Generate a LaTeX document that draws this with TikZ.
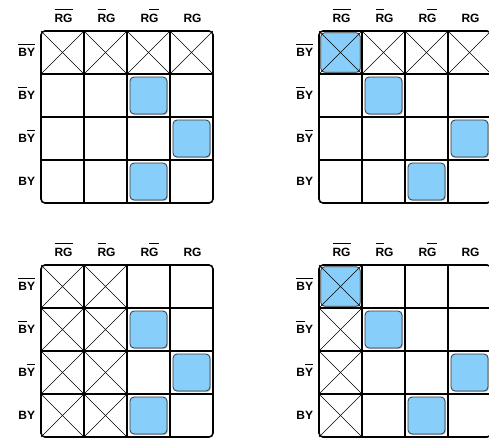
\documentclass[tikz,border=0pt]{standalone}
\usepackage{fontspec}
\setmainfont{Liberation Sans}
\usetikzlibrary{shadows}
\definecolor{cellblue}{RGB}{135,206,250}
\definecolor{edgegray}{RGB}{55,55,55}
\newcommand{\ovl}[1]{\begingroup\setbox0\hbox{#1}\rlap{\raisebox{\dimexpr\ht0+4pt\relax}{\rule{\wd0}{1pt}}}\box0\endgroup}
\tikzset{
  lbl/.style={font=\bfseries\fontsize{12}{14}\selectfont, inner sep=0pt, anchor=base},
  onecell/.style={minimum size=43pt, inner sep=0pt, outer sep=0pt},
  bluebox/.style={rounded corners=4pt, fill=cellblue, draw=edgegray, line width=0.8pt,
    minimum size=37pt, inner sep=0pt,
    drop shadow={shadow xshift=1pt, shadow yshift=-1pt, opacity=0.45, fill=gray}},
  bigblue/.style={bluebox, minimum size=39.5pt},
  gridline/.style={line width=1.3pt},
  outerline/.style={line width=1.6pt, rounded corners=4pt},
  crossline/.style={line width=0.6pt}
}
\newcommand{\kmapgrid}[3]{%
  \foreach \c in {0,...,3}{
    \foreach \r in {0,...,3}{
      \node[onecell] (#1-\c-\r) at ({#2+21.5+43*\c},{#3+21.5+43*\r}) {};
    }
  }
  \node[lbl] (#1-h0) at ({#2+22.5},{#3-8.3}) {\ovl{RG}};
  \node[lbl] (#1-h1) at ({#2+65.5},{#3-8.3}) {\ovl{R}G};
  \node[lbl] (#1-h2) at ({#2+108.5},{#3-8.3}) {R\ovl{G}};
  \node[lbl] (#1-h3) at ({#2+151.5},{#3-8.3}) {RG};
  \node[lbl] (#1-v0) at ({#2-14.3},{#3+25.9}) {\ovl{BY}};
  \node[lbl] (#1-v1) at ({#2-14.3},{#3+68.9}) {\ovl{B}Y};
  \node[lbl] (#1-v2) at ({#2-14.3},{#3+111.9}) {B\ovl{Y}};
  \node[lbl] (#1-v3) at ({#2-14.3},{#3+154.9}) {BY};
}
\newcommand{\kmaplines}[1]{%
  \foreach \c in {1,2,3}{
    \draw[gridline] (#1-\c-0.north west) -- (#1-\c-3.south west);
    \draw[gridline] (#1-0-\c.north west) -- (#1-3-\c.north east);
  }
  \draw[outerline] (#1-0-0.north west) rectangle (#1-3-3.south east);
}
\newcommand{\kmapx}[3]{%
  \draw[crossline] (#1-#2-#3.north west) -- (#1-#2-#3.south east);
  \draw[crossline] (#1-#2-#3.north east) -- (#1-#2-#3.south west);
}
\begin{document}
\begin{tikzpicture}[x=1pt,y=-1pt]
\useasboundingbox (0,0) rectangle (489,437);
\clip (0,0) rectangle (489,437);
\fill[white] (0,0) rectangle (489,437);

% grid A (top left)
\kmapgrid{A}{41}{31}
\node[bluebox] (A-b21) at (A-2-1) {};
\node[bluebox] (A-b32) at (A-3-2) {};
\node[bluebox] (A-b23) at (A-2-3) {};
\foreach \c in {0,...,3}{\kmapx{A}{\c}{0}}
\kmaplines{A}

% grid B (top right)
\kmapgrid{B}{319}{31}
\node[bigblue] (B-b00) at (B-0-0) {};
\node[bluebox] (B-b11) at (B-1-1) {};
\node[bluebox] (B-b32) at (B-3-2) {};
\node[bluebox] (B-b23) at (B-2-3) {};
\foreach \c in {0,...,3}{\kmapx{B}{\c}{0}}
\kmaplines{B}

% grid C (bottom left)
\kmapgrid{C}{41}{265}
\node[bluebox] (C-b21) at (C-2-1) {};
\node[bluebox] (C-b32) at (C-3-2) {};
\node[bluebox] (C-b23) at (C-2-3) {};
\foreach \r in {0,...,3}{\kmapx{C}{0}{\r}\kmapx{C}{1}{\r}}
\kmaplines{C}

% grid D (bottom right)
\kmapgrid{D}{319}{265}
\node[bigblue] (D-b00) at (D-0-0) {};
\node[bluebox] (D-b11) at (D-1-1) {};
\node[bluebox] (D-b32) at (D-3-2) {};
\node[bluebox] (D-b23) at (D-2-3) {};
\foreach \r in {0,...,3}{\kmapx{D}{0}{\r}}
\kmaplines{D}
\end{tikzpicture}
\end{document}
